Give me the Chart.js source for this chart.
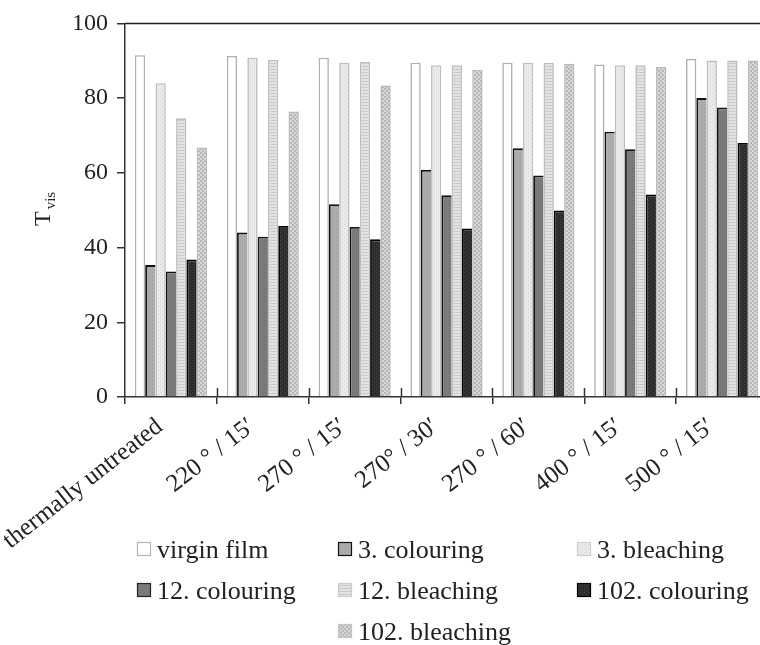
<!DOCTYPE html>
<html>
<head>
<meta charset="utf-8">
<script src="https://cdn.jsdelivr.net/npm/chart.js@4/dist/chart.umd.min.js"></script>
<style>
  html, body { margin: 0; padding: 0; overflow: hidden; background: #fff; }
  #wrap { width: 768px; height: 645px; }
</style>
</head>
<body>
<div id="wrap"><canvas id="c" width="768" height="645"></canvas></div>
<script>
// Heat treatments (x categories)
const categories = ['thermally untreated', '220 ° / 15′', '270 ° / 15′', '270° / 30′', '270 ° / 60′', '400 ° / 15′', '500 ° / 15′'];

// Visible transmittance T_vis (%) per treatment
const virginFilm    = [91.5, 91.3, 90.8, 89.5, 89.5, 89.0, 90.5];
const colouring3    = [35.3, 44.0, 51.6, 60.8, 66.6, 71.0, 80.0];
const bleaching3    = [84.0, 90.8, 89.5, 88.8, 89.5, 88.8, 90.1];
const colouring12   = [33.6, 42.9, 45.5, 54.0, 59.3, 66.3, 77.5];
const bleaching12   = [74.6, 90.2, 89.7, 88.8, 89.5, 88.8, 90.1];
const colouring102  = [36.8, 45.8, 42.2, 45.1, 49.9, 54.2, 68.0];
const bleaching102  = [66.8, 76.4, 83.4, 87.6, 89.2, 88.3, 90.1];

const seriesNames = ['virgin film', '3. colouring', '3. bleaching', '12. colouring', '12. bleaching', '102. colouring', '102. bleaching'];
const yTicks = [0, 20, 40, 60, 80, 100];

const FONT = '"Liberation Serif", "Times New Roman", serif';
const INK = '#222';

// Small repeating fills for the bar textures
function makePattern(size, draw) {
  const c = document.createElement('canvas');
  c.width = c.height = size;
  const g = c.getContext('2d');
  draw(g, size);
  return g.createPattern(c, 'repeat');
}
function dots(base, dot) {
  return makePattern(4, (g) => {
    g.fillStyle = base; g.fillRect(0, 0, 4, 4);
    g.fillStyle = dot; g.fillRect(0, 0, 1, 1); g.fillRect(2, 2, 1, 1);
  });
}
const fills = {
  virgin: '#ffffff',
  c3: dots('#adadad', '#9a9a9a'),
  b3: dots('#ebebeb', '#cfcfcf'),
  c12: dots('#7c7c7c', '#6a6a6a'),
  b12: makePattern(3, (g) => {
    g.fillStyle = '#e3e3e3'; g.fillRect(0, 0, 3, 3);
    g.fillStyle = '#c8c8c8'; g.fillRect(0, 0, 3, 1);
  }),
  c102: dots('#2c2c2c', '#4a4a4a'),
  b102: makePattern(4, (g) => {
    g.fillStyle = '#d8d8d8'; g.fillRect(0, 0, 4, 4);
    g.fillStyle = '#b6b6b6'; g.fillRect(0, 0, 2, 2); g.fillRect(2, 2, 2, 2);
  })
};

const lightEdge = { left: 1.6, top: 1.6, right: 1.6, bottom: 0 };
const darkEdge = { left: 1.8, top: 1.8, right: 0, bottom: 0 };

const styles = [
  { bg: fills.virgin, border: '#b0b0b0', bw: lightEdge, box: '#b4b4b4' },
  { bg: fills.c3,     border: '#111111', bw: darkEdge,  box: '#111111' },
  { bg: fills.b3,     border: '#bdbdbd', bw: lightEdge, box: '#cccccc' },
  { bg: fills.c12,    border: '#111111', bw: darkEdge,  box: '#222222' },
  { bg: fills.b12,    border: '#bdbdbd', bw: lightEdge, box: '#cccccc' },
  { bg: fills.c102,   border: '#000000', bw: darkEdge,  box: '#000000' },
  { bg: fills.b102,   border: '#b8b8b8', bw: lightEdge, box: '#c4c4c4' }
];
const seriesData = [virginFilm, colouring3, bleaching3, colouring12, bleaching12, colouring102, bleaching102];

const datasets = seriesNames.map((name, i) => ({
  label: name,
  data: seriesData[i],
  backgroundColor: styles[i].bg,
  borderColor: styles[i].border,
  borderWidth: styles[i].bw,
  borderSkipped: false,
  barPercentage: 1.0,
  categoryPercentage: 0.785
}));

// Frame line on top, tick marks crossing the x axis, y-axis title with subscript, legend grid
const decorations = {
  id: 'decorations',
  afterDraw(chart) {
    const ctx = chart.ctx;
    const a = chart.chartArea;
    ctx.save();
    ctx.strokeStyle = INK;
    ctx.lineWidth = 1.5;
    ctx.beginPath();
    ctx.moveTo(a.left, a.top);
    ctx.lineTo(a.right, a.top);
    ctx.stroke();

    // inner halves of the category separators
    const catW = (a.right - a.left) / categories.length;
    ctx.strokeStyle = '#333';
    ctx.beginPath();
    for (let i = 1; i < categories.length; i++) {
      const x = Math.round(a.left + i * catW) + 0.5;
      ctx.moveTo(x, a.bottom - 9);
      ctx.lineTo(x, a.bottom);
    }
    ctx.stroke();

    // y axis title: T with subscript "vis", rotated
    ctx.fillStyle = INK;
    ctx.translate(50, 226);
    ctx.rotate(-Math.PI / 2);
    ctx.textBaseline = 'alphabetic';
    ctx.textAlign = 'left';
    ctx.font = '24px ' + FONT;
    ctx.fillText('T', 0, 0);
    const tw = ctx.measureText('T').width;
    ctx.font = '15px ' + FONT;
    ctx.fillText('vis', tw + 2, 5);
    ctx.restore();

    // legend
    ctx.save();
    const colX = [137, 338, 577];
    const rowY = [558, 599, 640];
    const slots = [[0, 0], [1, 0], [2, 0], [0, 1], [1, 1], [2, 1], [1, 2]];
    ctx.font = '26px ' + FONT;
    ctx.textBaseline = 'alphabetic';
    ctx.textAlign = 'left';
    seriesNames.forEach((name, i) => {
      const [c, r] = slots[i];
      const bx = colX[c], by = rowY[r] - 16;
      ctx.fillStyle = styles[i].bg;
      ctx.fillRect(bx, by, 14, 14);
      ctx.strokeStyle = styles[i].box;
      ctx.lineWidth = 1.2;
      ctx.strokeRect(bx + 0.5, by + 0.5, 13, 13);
      ctx.fillStyle = INK;
      ctx.fillText(name, bx + 20, rowY[r]);
    });
    ctx.restore();
  }
};

new Chart(document.getElementById('c'), {
  type: 'bar',
  data: { labels: categories, datasets },
  options: {
    responsive: false,
    animation: false,
    layout: { padding: { top: 20, left: 0, right: 0, bottom: 0 } },
    plugins: { legend: { display: false }, tooltip: { enabled: false } },
    scales: {
      x: {
        type: 'category',
        offset: true,
        grid: { display: true, offset: true, drawOnChartArea: false, tickLength: 7, color: '#333', lineWidth: 1.5 },
        border: { display: true, color: '#333', width: 1.5 },
        ticks: {
          autoSkip: false, minRotation: 38, maxRotation: 38, padding: 8, labelOffset: -11,
          color: INK, font: { family: FONT, size: 25 }
        },
        afterFit(s) { s.height = 248; }
      },
      y: {
        min: 0, max: 100,
        afterBuildTicks(s) { s.ticks = yTicks.map(v => ({ value: v })); },
        grid: { drawOnChartArea: false, tickLength: 8, color: '#333', lineWidth: 1.5 },
        border: { display: true, color: '#333', width: 1.5 },
        ticks: { color: INK, padding: 9, font: { family: FONT, size: 24 } },
        afterFit(s) { s.width = 125; }
      }
    }
  },
  plugins: [decorations]
});
</script>
</body>
</html>
